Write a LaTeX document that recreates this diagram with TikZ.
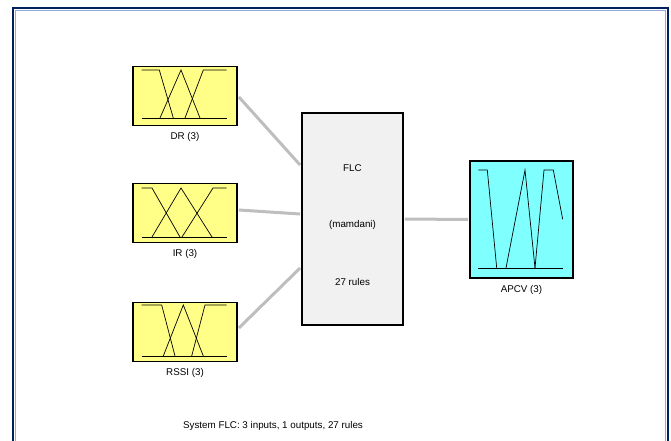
\documentclass[tikz,border=0pt]{standalone}
\usepackage{fontspec}
\setmainfont{Liberation Sans}
\usepackage{xcolor}
\usepackage{tikz}
\usetikzlibrary{positioning}
\definecolor{fisnavy}{RGB}{0,32,96}
\definecolor{fisframe}{RGB}{150,170,215}
\definecolor{fisyellow}{RGB}{255,255,135}
\definecolor{fiscyan}{RGB}{128,255,255}
\definecolor{fisgray}{RGB}{241,241,241}
\definecolor{fislink}{RGB}{190,190,190}
\tikzset{
  varbox/.style={
    rectangle,
    draw=black,
    line width=1.8pt,
    minimum width=104pt,
    minimum height=59pt,
    inner sep=0pt
  },
  rulebox/.style={
    rectangle,
    draw=black,
    line width=1.8pt,
    fill=fisgray,
    minimum width=101pt,
    minimum height=212pt,
    inner sep=0pt,
    align=center
  },
  varlabel/.style={
    inner sep=1pt,
    font=\fontsize{9.8}{11}\selectfont
  },
  mfline/.style={
    draw=black,
    line width=0.7pt
  },
  fislink/.style={
    draw=fislink,
    line width=3pt
  }
}
\begin{document}
\begin{tikzpicture}[x=1pt,y=-1pt]
\useasboundingbox (0,0) rectangle (671,441);
% frame
\draw[fisnavy, line width=2.2pt] (13,8) rectangle (668,460);
\draw[fisframe, line width=0.8pt] (15.3,10.3) rectangle (665.7,460);

% input and output variables
\node[varbox, fill=fisyellow] (dr) at (185,96) {};
\node[varbox, fill=fisyellow] (ir) at (185,213) {};
\node[varbox, fill=fisyellow] (rssi) at (185,332) {};
\node[rulebox] (flc) at (352.5,219) {};
\node[varbox, fill=fiscyan, minimum width=103pt, minimum height=117pt] (apcv) at (521.5,219.5) {};

\node[varlabel, below=5pt of dr] (drlab) {DR (3)};
\node[varlabel, below=5pt of ir] (irlab) {IR (3)};
\node[varlabel, below=5pt of rssi] (rssilab) {RSSI (3)};
\node[varlabel, below=5pt of apcv] (apcvlab) {APCV (3)};

\node[varlabel] (flcname) at (352.5,168) {FLC};
\node[varlabel] (flctype) at (352.5,225) {(mamdani)};
\node[varlabel] (flcrules) at (352.5,282) {27 rules};

% membership functions
\draw[mfline] (141.7,118) -- (226.7,118);
\draw[mfline] (141.7,70) -- (159.3,70) -- (173.3,118);
\draw[mfline] (160,118) -- (181,70) -- (200,118);
\draw[mfline] (185,118) -- (203.3,70) -- (226.7,70);

\draw[mfline] (141.7,237) -- (226.7,237);
\draw[mfline] (141.7,188) -- (152,188) -- (180,237);
\draw[mfline] (152,237) -- (181,188) -- (212,237);
\draw[mfline] (182,237) -- (213,188) -- (226.7,188);

\draw[mfline] (141.7,356) -- (226.7,356);
\draw[mfline] (141.7,305) -- (161.7,305) -- (175,356);
\draw[mfline] (163.3,356) -- (183.3,305) -- (203.3,356);
\draw[mfline] (191.7,356) -- (205,305) -- (226.7,305);

\draw[mfline] (478.3,268) -- (562.7,268);
\draw[mfline] (478.3,170) -- (487.3,170) -- (496.7,268);
\draw[mfline] (506,268) -- (525,170) -- (535,268);
\draw[mfline] (535,268) -- (544,170) -- (553.3,170) -- (562.7,219.3);

% connectors
\draw[fislink] ([xshift=1pt,yshift=-1pt]dr.east) -- ([xshift=-1pt,yshift=54pt]flc.west);
\draw[fislink] ([xshift=1pt,yshift=3pt]ir.east) -- ([xshift=-1pt,yshift=5pt]flc.west);
\draw[fislink] ([xshift=1pt,yshift=4pt]rssi.east) -- ([xshift=-1pt,yshift=-49pt]flc.west);
\draw[fislink] ([xshift=1pt]flc.east) -- ([xshift=-1pt]apcv.west);

\node[varlabel] (sysinfo) at (273,426) {System FLC: 3 inputs, 1 outputs, 27 rules};
\end{tikzpicture}
\end{document}
